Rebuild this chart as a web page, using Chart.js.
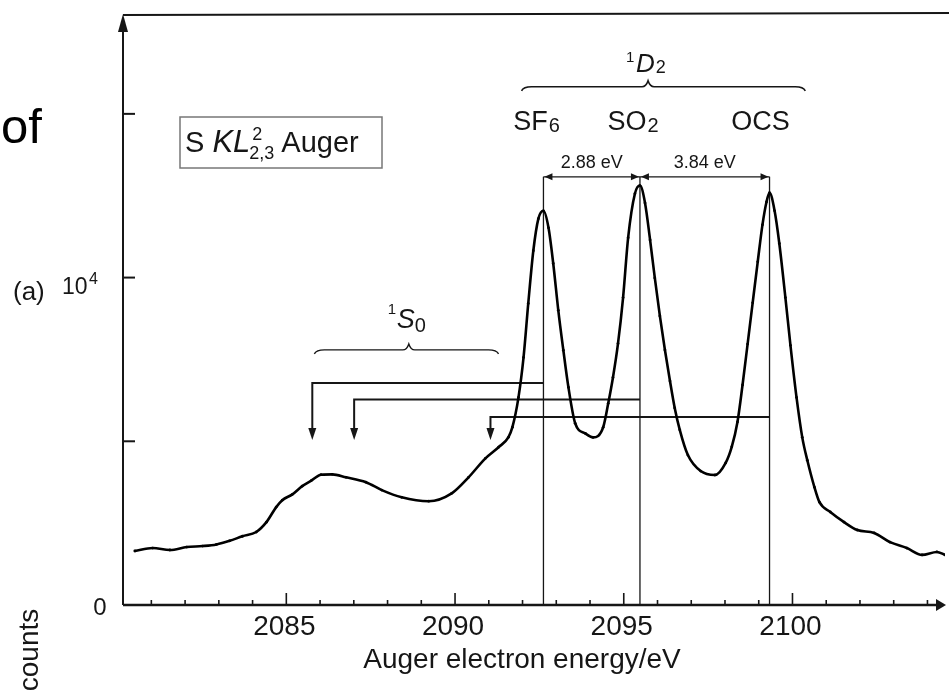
<!DOCTYPE html>
<html><head><meta charset="utf-8">
<script src="https://cdn.jsdelivr.net/npm/chart.js@4"></script>
<style>html,body{margin:0;padding:0;background:#fff;overflow:hidden}</style>
</head><body>
<canvas id="c" width="949" height="694"></canvas>
<script>
// ---- data ----
const energies = [2080.51,2081.04,2081.55,2082.05,2082.52,2082.93,2083.32,2083.70,2084.11,2084.41,2084.70,2084.88,2085.18,2085.47,2085.74,2086.03,2086.36,2086.77,2087.36,2087.83,2088.42,2089.22,2089.90,2090.40,2090.90,2091.29,2091.58,2091.70,2091.88,2092.03,2092.17,2092.32,2092.47,2092.62,2092.77,2092.91,2093.06,2093.21,2093.36,2093.56,2093.86,2094.09,2094.39,2094.54,2094.68,2094.83,2094.98,2095.13,2095.33,2095.48,2095.63,2095.78,2095.92,2096.07,2096.22,2096.37,2096.51,2096.66,2096.90,2097.28,2097.70,2098.02,2098.20,2098.37,2098.52,2098.67,2098.82,2098.97,2099.11,2099.23,2099.32,2099.47,2099.61,2099.79,2099.94,2100.12,2100.29,2100.44,2100.65,2100.80,2101.12,2101.53,2101.92,2102.42,2102.89,2103.39,2103.84,2104.28,2104.52];
const counts = [1650,1740,1680,1770,1800,1850,1960,2100,2230,2530,2990,3200,3380,3630,3800,3980,3990,3900,3750,3510,3290,3170,3410,3900,4480,4820,5120,5430,6340,7560,9210,10820,11800,12040,11520,10430,9000,7780,6650,5550,5240,5120,5430,6160,6950,7990,9390,11220,12560,12810,12280,11150,9990,8830,7790,6840,6020,5350,4580,4090,3970,4340,4830,5590,6720,7970,9230,10480,11610,12310,12590,12040,11040,9390,7930,6340,5120,4420,3600,3140,2840,2530,2290,2200,1920,1740,1530,1620,1530];
const xTickValues = [2085,2090,2095,2100];
const xTickLabels = ['2085','2090','2095','2100'];
const yTickValues = [0,5000,10000,15000];
const peakNames = ['SF','SO','OCS'];
const peakSubs = ['6','2',''];
const peakEnergies = [2092.62,2095.48,2099.32];
const splitLabels = ['2.88 eV','3.84 eV'];
const s0Energies = [2085.77,2087.01,2091.05];
const hookLevels = [6783,6279,5744];
const hookTip = 5040;
const splitLevel = 13077;
const braceD2 = [2091.97,2095.72,2100.38,15826];
const braceS0 = [2085.83,2088.63,2091.29,7791];
// ---------------------------------------

const FONT = '"Liberation Sans", Arial, Helvetica, sans-serif';
const INK = '#161616';

function arrowHead(ctx, x, y, dir, len, half){
  ctx.beginPath();
  if(dir==='down'){ctx.moveTo(x,y);ctx.lineTo(x-half,y-len);ctx.lineTo(x+half,y-len);}
  else if(dir==='up'){ctx.moveTo(x,y);ctx.lineTo(x-half,y+len);ctx.lineTo(x+half,y+len);}
  else if(dir==='left'){ctx.moveTo(x,y);ctx.lineTo(x+len,y-half);ctx.lineTo(x+len,y+half);}
  else {ctx.moveTo(x,y);ctx.lineTo(x-len,y-half);ctx.lineTo(x-len,y+half);}
  ctx.closePath();ctx.fill();
}
function brace(ctx, x1, xm, x2, y){
  ctx.beginPath();
  ctx.moveTo(x1, y+4);
  ctx.quadraticCurveTo(x1+2, y, x1+10, y);
  ctx.lineTo(xm-6, y);
  ctx.quadraticCurveTo(xm-2, y, xm, y-6);
  ctx.quadraticCurveTo(xm+2, y, xm+6, y);
  ctx.lineTo(x2-10, y);
  ctx.quadraticCurveTo(x2-2, y, x2, y+4);
  ctx.stroke();
}
function txt(ctx, s, x, y, size, opts={}){
  ctx.font = (opts.italic?'italic ':'') + size + 'px ' + FONT;
  ctx.textAlign = opts.align || 'left';
  ctx.textBaseline = 'alphabetic';
  ctx.fillText(s, x, y);
  return ctx.measureText(s).width;
}

const overlay = {
  id:'overlay',
  beforeDatasetsDraw(chart){
    const {ctx, chartArea:a, scales:{x:sx, y:sy}} = chart;
    const X = v=>sx.getPixelForValue(v), Y = v=>sy.getPixelForValue(v);
    ctx.save();
    ctx.strokeStyle = INK; ctx.fillStyle = INK;
    // frame top
    ctx.lineWidth = 2;
    ctx.beginPath(); ctx.moveTo(a.left, a.top+1); ctx.lineTo(chart.width, a.top-1); ctx.stroke();
    // y axis
    ctx.lineWidth = 2;
    ctx.beginPath(); ctx.moveTo(a.left, a.bottom); ctx.lineTo(a.left, a.top+10); ctx.stroke();
    arrowHead(ctx, a.left, a.top, 'up', 18, 5);
    yTickValues.forEach(v=>{ if(v===0) return;
      ctx.beginPath(); ctx.moveTo(a.left, Y(v)); ctx.lineTo(a.left+12, Y(v)); ctx.stroke(); });
    // x axis
    ctx.lineWidth = 2.5;
    ctx.beginPath(); ctx.moveTo(a.left, a.bottom); ctx.lineTo(a.right-6, a.bottom); ctx.stroke();
    arrowHead(ctx, a.right+1, a.bottom, 'right', 10, 6);
    ctx.lineWidth = 1.6;
    for(let e=Math.ceil(sx.min); e<=Math.floor(sx.max); e++){
      const L = (e%5===0)?12:5;
      ctx.beginPath(); ctx.moveTo(X(e), a.bottom); ctx.lineTo(X(e), a.bottom-L); ctx.stroke();
    }
    // vertical peak lines
    ctx.lineWidth = 1.3;
    peakEnergies.forEach(e=>{ ctx.beginPath(); ctx.moveTo(X(e), Y(splitLevel)); ctx.lineTo(X(e), a.bottom); ctx.stroke(); });
    // splitting double arrows
    ctx.lineWidth = 1.4;
    ctx.beginPath(); ctx.moveTo(X(peakEnergies[0]), Y(splitLevel)); ctx.lineTo(X(peakEnergies[2]), Y(splitLevel)); ctx.stroke();
    for(let i=0;i<2;i++){
      arrowHead(ctx, X(peakEnergies[i])+1, Y(splitLevel), 'left', 8, 3.5);
      arrowHead(ctx, X(peakEnergies[i+1])-1, Y(splitLevel), 'right', 8, 3.5);
    }
    // hook arrows to 1S0 positions
    ctx.lineWidth = 2;
    peakEnergies.forEach((e,i)=>{
      const xs = X(s0Energies[i]), y = Y(hookLevels[i]);
      ctx.beginPath(); ctx.moveTo(X(e), y); ctx.lineTo(xs, y); ctx.lineTo(xs, Y(hookTip)-10); ctx.stroke();
      arrowHead(ctx, xs, Y(hookTip), 'down', 12, 4);
    });
    // braces
    ctx.lineWidth = 1.6;
    brace(ctx, X(braceD2[0]), X(braceD2[1]), X(braceD2[2]), Y(braceD2[3]));
    ctx.lineWidth = 1.4;
    brace(ctx, X(braceS0[0]), X(braceS0[1]), X(braceS0[2]), Y(braceS0[3]));
    ctx.restore();
  },
  afterDraw(chart){
    const {ctx, chartArea:a, scales:{x:sx, y:sy}} = chart;
    const X = v=>sx.getPixelForValue(v), Y = v=>sy.getPixelForValue(v);
    ctx.save();
    ctx.fillStyle = INK;
    // x tick labels
    xTickValues.forEach((v,i)=> txt(ctx, xTickLabels[i], X(v)-2, a.bottom+30, 28, {align:'center'}));
    // x title
    txt(ctx, 'Auger electron energy/eV', (a.left+a.right)/2 - 12, a.bottom+63, 28, {align:'center'});
    // y labels
    txt(ctx, '0', a.left-23, Y(yTickValues[0])+10, 24, {align:'center'});
    txt(ctx, '(a)', a.left-110, Y(10000)+22, 26);
    txt(ctx, '10', a.left-61, Y(10000)+16, 23);
    txt(ctx, '4', a.left-34, Y(10000)+6, 16);
    // counts (rotated)
    ctx.save(); ctx.translate(38, 650); ctx.rotate(-Math.PI/2);
    txt(ctx, 'counts', 0, 0, 28, {align:'center'}); ctx.restore();
    // "of"
    ctx.fillStyle = '#000';
    txt(ctx, 'of', 1, a.top+129, 49);
    ctx.fillStyle = INK;
    // Legend box
    const bx = a.left+57, by = a.top+103;
    ctx.strokeStyle = '#777'; ctx.lineWidth = 1.5;
    ctx.strokeRect(bx, by, 202, 51);
    let cx = bx + 5;
    cx += txt(ctx, 'S ', cx, by+35, 29);
    cx += txt(ctx, 'KL', cx, by+35, 31, {italic:true});
    txt(ctx, '2', cx+2, by+23, 18);
    const sw = txt(ctx, '2,3', cx-1, by+42, 18);
    txt(ctx, 'Auger', cx-1+sw+7, by+35, 29);
    // peak names
    peakEnergies.forEach((e,i)=>{
      ctx.font = '27px '+FONT;
      const w1 = ctx.measureText(peakNames[i]).width;
      ctx.font = '20px '+FONT;
      const w2 = peakSubs[i] ? ctx.measureText(peakSubs[i]).width+1 : 0;
      const x0 = X(e) - 7 - (w1+w2)/2 + (peakSubs[i]?0:-2);
      txt(ctx, peakNames[i], x0, Y(splitLevel)-47, 27);
      if(peakSubs[i]) txt(ctx, peakSubs[i], x0+w1+1, Y(splitLevel)-45, 20);
    });
    // splitting labels
    for(let i=0;i<2;i++){
      txt(ctx, splitLabels[i], (X(peakEnergies[i])+X(peakEnergies[i+1]))/2, Y(splitLevel)-9, 18, {align:'center'});
    }
    // 1D2 label
    let lx = X(braceD2[1]) - 22, ly = Y(braceD2[3]) - 15;
    txt(ctx, '1', lx, ly-10, 15);
    let dw = txt(ctx, 'D', lx+10, ly, 26, {italic:true});
    txt(ctx, '2', lx+10+dw+1, ly+1, 18);
    // 1S0 label
    lx = X(braceS0[1]) - 21; ly = Y(braceS0[3]) - 22;
    txt(ctx, '1', lx, ly-14, 15);
    dw = txt(ctx, 'S', lx+9, ly, 27, {italic:true});
    txt(ctx, '0', lx+9+dw, ly+4, 20);
    ctx.restore();
  }
};

new Chart(document.getElementById('c'), {
  type:'line',
  data:{ datasets:[{
    data: energies.map((e,i)=>({x:e, y:counts[i]})),
    borderColor:'#000', backgroundColor:'#000', borderWidth:2.6,
    pointRadius:1.4, pointBorderWidth:0, pointBackgroundColor:'#000',
    cubicInterpolationMode:'monotone', fill:false
  }]},
  options:{
    responsive:false, animation:false, devicePixelRatio:1,
    layout:{padding:{left:123, right:1, top:14, bottom:89}},
    plugins:{legend:{display:false}, tooltip:{enabled:false}},
    scales:{
      x:{type:'linear', min:2080.16, max:2104.52, display:false},
      y:{type:'linear', min:0, max:18050, display:false}
    }
  },
  plugins:[overlay]
});
</script>
</body></html>
